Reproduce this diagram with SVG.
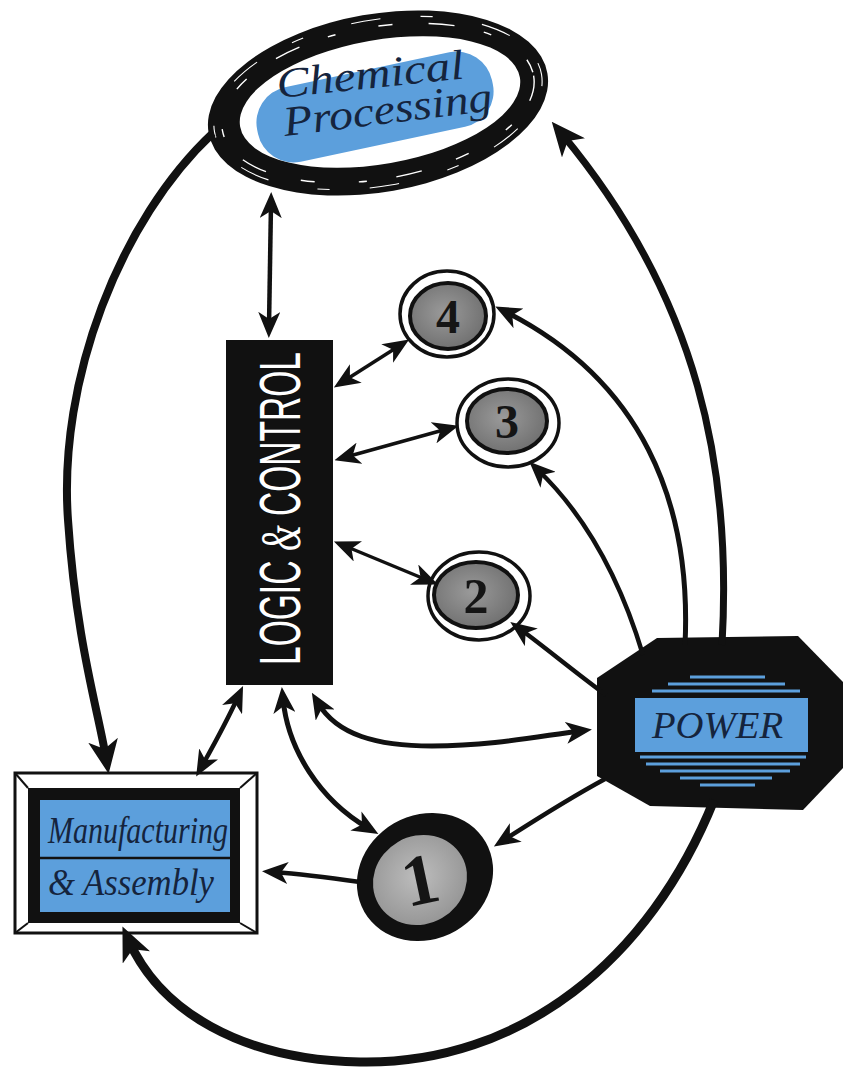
<svg xmlns="http://www.w3.org/2000/svg" width="857" height="1068" viewBox="0 0 857 1068">
<style>
.ink{fill:#111;}
.conn path{fill:none;stroke:#111;stroke-linecap:butt;}
.script{font-family:"Liberation Serif","DejaVu Serif",serif;font-style:italic;fill:#15243d;}
.digit{font-family:"Liberation Serif","DejaVu Serif",serif;font-weight:bold;fill:#151515;text-anchor:middle;}
.blue{fill:#5c9fdc;}
.hatch line{stroke:#5c9fdc;stroke-width:3;}
.ring{fill:#fff;stroke:#111;stroke-width:3.5;}
.core{fill:url(#grey);stroke:#111;stroke-width:4;}
</style>
<defs>
<radialGradient id="grey" cx="0.45" cy="0.45" r="0.6">
<stop offset="0" stop-color="#9a9a9a"/>
<stop offset="1" stop-color="#6e6e6e"/>
</radialGradient>
<radialGradient id="grey1" cx="0.5" cy="0.45" r="0.6">
<stop offset="0" stop-color="#bdbdbd"/>
<stop offset="1" stop-color="#939393"/>
</radialGradient>
<marker id="ah" viewBox="0 0 26 22" refX="14" refY="11" markerWidth="26" markerHeight="22" markerUnits="userSpaceOnUse" orient="auto-start-reverse">
<path d="M0,0 L26,11 L0,22 L7,11 Z" fill="#111"/>
</marker>
<marker id="big" viewBox="0 0 34 30" refX="18" refY="15" markerWidth="34" markerHeight="30" markerUnits="userSpaceOnUse" orient="auto-start-reverse">
<path d="M0,0 L34,15 L0,30 L9,15 Z" fill="#111"/>
</marker>
</defs>
<rect width="857" height="1068" fill="#fff"/>

<g id="chemical-processing">
<ellipse cx="378" cy="103" rx="172" ry="89" transform="rotate(-10 378 103)" class="ink"/>
<ellipse cx="378" cy="103" rx="158" ry="76" transform="rotate(-10 378 103)" fill="none" stroke="#fff" stroke-width="1.4" stroke-dasharray="26 30 8 44 14 36"/>
<ellipse cx="378" cy="103" rx="166" ry="83" transform="rotate(-10 378 103)" fill="none" stroke="#fff" stroke-width="1.1" stroke-dasharray="12 50 30 40"/>
<ellipse cx="380" cy="102" rx="142" ry="62" transform="rotate(-10 380 102)" fill="#fff"/>
<rect x="255" y="69" width="240" height="76" rx="36" transform="rotate(-12 375 107)" class="blue"/>
<text class="script" x="278" y="98" font-size="42" textLength="188" lengthAdjust="spacingAndGlyphs" transform="rotate(-6 278 98)">Chemical</text>
<text class="script" x="285" y="136" font-size="42" textLength="210" lengthAdjust="spacingAndGlyphs" transform="rotate(-7 285 136)">Processing</text>
</g>

<g id="logic-control">
<rect x="226" y="340" width="107" height="345" class="ink"/>
<text x="0" y="0" transform="translate(300 665) rotate(-90)" font-family="Liberation Sans, Arial, sans-serif" font-size="58" fill="#fff" textLength="313" lengthAdjust="spacingAndGlyphs">LOGIC <tspan font-family="Liberation Serif, serif" font-style="italic">&amp;</tspan> CONTROL</text>
</g>

<g id="node-4">
<ellipse cx="447" cy="314" rx="47" ry="43" class="ring"/>
<ellipse cx="448" cy="316" rx="38" ry="33" class="core"/>
<text x="448" y="333" font-size="48" class="digit">4</text>
</g>

<g id="node-3">
<ellipse cx="508" cy="423" rx="51" ry="44" class="ring"/>
<ellipse cx="507" cy="421" rx="40" ry="32" class="core"/>
<text x="507" y="438" font-size="48" class="digit">3</text>
</g>

<g id="node-2">
<ellipse cx="479" cy="596" rx="51" ry="44" class="ring"/>
<ellipse cx="476" cy="595" rx="42" ry="33" class="core"/>
<text x="476" y="613" font-size="50" class="digit">2</text>
</g>

<g id="node-1">
<ellipse cx="425" cy="877" rx="70" ry="62" transform="rotate(-30 425 877)" class="ink"/>
<ellipse cx="420" cy="880" rx="48" ry="44" transform="rotate(-30 420 880)" fill="url(#grey1)"/>
<text x="420" y="904" font-size="72" class="digit" transform="rotate(-12 420 880)">1</text>
</g>

<g id="power">
<polygon points="657,638 798,636 843,682 843,768 803,810 650,806 597,776 597,678" class="ink"/>
<g class="hatch">
<line x1="690" y1="677" x2="765" y2="677"/>
<line x1="668" y1="684" x2="785" y2="684"/>
<line x1="652" y1="691" x2="800" y2="691"/>
<line x1="640" y1="757" x2="806" y2="757"/>
<line x1="646" y1="764" x2="800" y2="764"/>
<line x1="660" y1="771" x2="790" y2="771"/>
<line x1="680" y1="778" x2="772" y2="778"/>
<line x1="700" y1="785" x2="755" y2="785"/>
</g>
<rect x="635" y="698" width="173" height="54" class="blue"/>
<text class="script" x="652" y="738" font-size="38" textLength="131" lengthAdjust="spacingAndGlyphs">POWER</text>
</g>

<g id="manufacturing-assembly">
<rect x="15" y="773" width="242" height="160" fill="#fff" stroke="#111" stroke-width="3"/>
<g stroke="#111" stroke-width="2">
<line x1="15" y1="773" x2="28" y2="788"/>
<line x1="257" y1="773" x2="240" y2="788"/>
<line x1="15" y1="933" x2="28" y2="923"/>
<line x1="257" y1="933" x2="240" y2="923"/>
</g>
<rect x="28" y="788" width="212" height="135" class="ink"/>
<rect x="40" y="800" width="190" height="112" class="blue"/>
<line x1="40" y1="858" x2="230" y2="858" stroke="#111" stroke-width="2.5"/>
<text class="script" x="48" y="843" font-size="37" textLength="180" lengthAdjust="spacingAndGlyphs">Manufacturing</text>
<text class="script" x="48" y="895" font-size="37" textLength="166" lengthAdjust="spacingAndGlyphs">&amp; Assembly</text>
</g>

<g class="conn" id="connectors">
<path d="M213,133 C120,220 58,380 68,520 C76,640 98,710 106,758" stroke-width="8" marker-end="url(#big)"/>
<path d="M271,204 L269,326" stroke-width="4.5" marker-start="url(#ah)" marker-end="url(#ah)"/>
<path d="M722,645 C732,470 700,300 562,134" stroke-width="7" marker-end="url(#big)"/>
<path d="M685,645 C692,500 640,380 506,312" stroke-width="5" marker-end="url(#ah)"/>
<path d="M643,655 C622,585 590,520 538,470" stroke-width="4.5" marker-end="url(#ah)"/>
<path d="M606,695 C572,670 546,648 520,629" stroke-width="4.5" marker-end="url(#ah)"/>
<path d="M344,381 L399,346" stroke-width="3.5" marker-start="url(#ah)" marker-end="url(#ah)"/>
<path d="M346,457 L447,429" stroke-width="3.5" marker-start="url(#ah)" marker-end="url(#ah)"/>
<path d="M345,546 L427,580" stroke-width="3.5" marker-start="url(#ah)" marker-end="url(#ah)"/>
<path d="M318,703 C337,735 377,746 432,746 C492,746 540,736 580,731" stroke-width="5" marker-start="url(#ah)" marker-end="url(#ah)"/>
<path d="M283,699 C288,750 320,800 368,828" stroke-width="5" marker-start="url(#ah)" marker-end="url(#ah)"/>
<path d="M238,697 C225,725 212,748 202,766" stroke-width="4.5" marker-start="url(#ah)" marker-end="url(#ah)"/>
<path d="M605,779 C568,799 532,822 504,840" stroke-width="4.5" marker-end="url(#ah)"/>
<path d="M360,882 C332,878 302,874 274,872" stroke-width="4.5" marker-end="url(#ah)"/>
<path d="M714,800 C650,960 520,1065 360,1062 C240,1060 160,1010 129,941" stroke-width="9" marker-end="url(#big)"/>
</g>
</svg>
